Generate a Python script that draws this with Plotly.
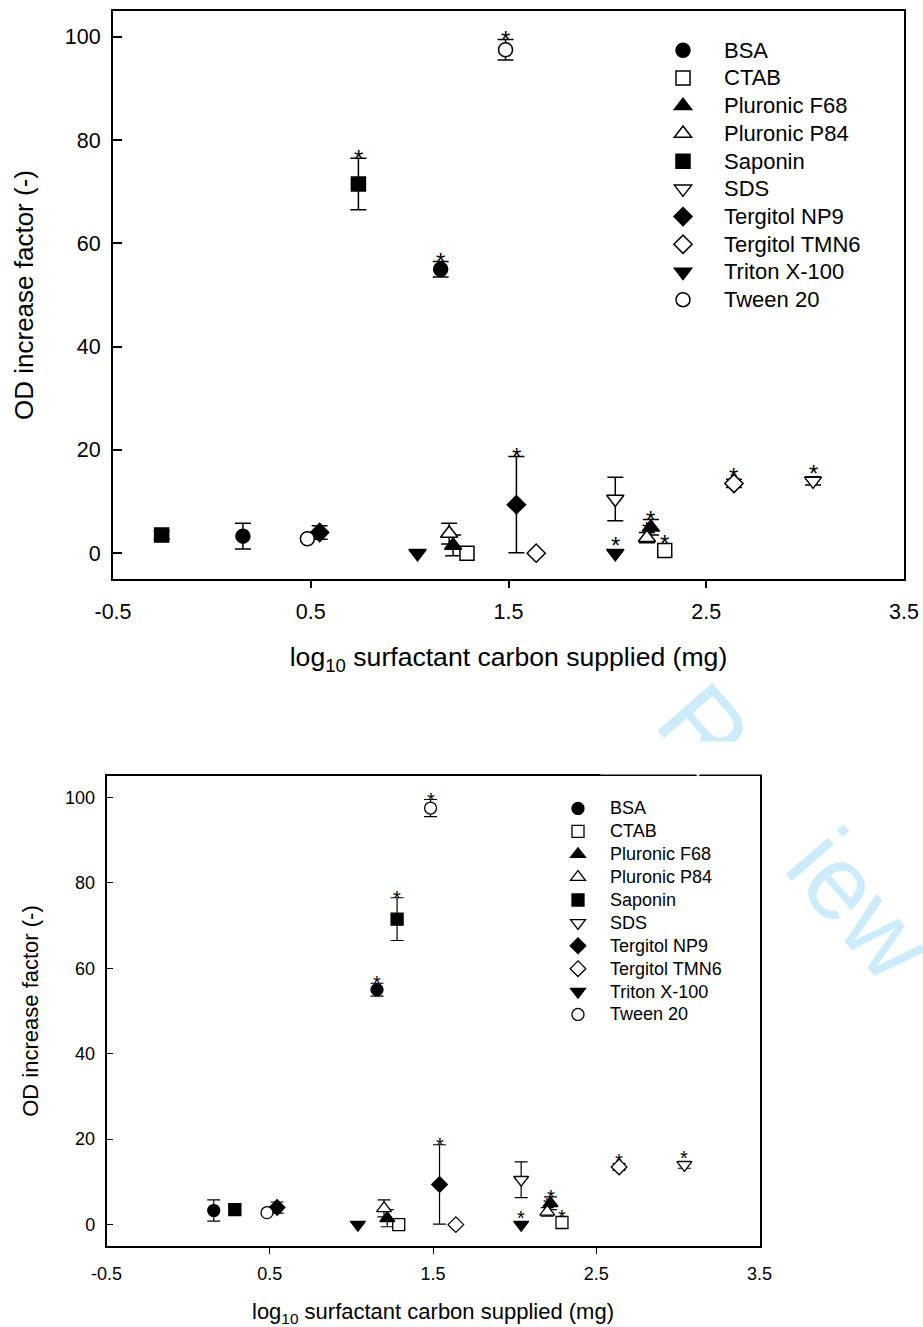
import plotly.graph_objects as go

# ---------------- data ----------------
surfactants = ["BSA", "CTAB", "Pluronic F68", "Pluronic P84", "Saponin", "SDS",
               "Tergitol NP9", "Tergitol TMN6", "Triton X-100", "Tween 20"]

# log10 surfactant carbon supplied (mg) – upper panel
x_dose1_upper = [0.157, 1.29, 1.22, 1.20, -0.254, 2.04, 0.545, 1.64, 1.04, 0.483]
x_dose2_upper = [1.157, 2.29, 2.22, 2.20, 0.741, 3.04, 1.54, 2.64, 2.04, 1.485]
# lower panel (Saponin carbon re-computed)
x_dose1_lower = [0.157, 1.29, 1.22, 1.20, 0.286, 2.04, 0.545, 1.64, 1.04, 0.483]
x_dose2_lower = [1.157, 2.29, 2.22, 2.20, 1.28, 3.04, 1.54, 2.64, 2.04, 1.485]

# OD increase factor (-)
y_dose1 = [3.3, 0.0, 1.5, 3.8, 3.5, 10.5, 4.0, 0.0, 0.0, 2.8]
y_dose2 = [55.0, 0.5, 5.0, 3.0, 71.5, 14.0, 9.4, 13.5, 0.0, 97.5]
err_dose1 = [2.5, None, 2.0, 2.0, 0.8, 4.2, 1.3, None, None, None]
err_dose2 = [1.5, None, 1.5, 1.0, 5.0, 0.8, 9.3, 0.8, None, 2.0]
sig_dose1 = [False, False, False, False, False, False, False, False, False, False]
sig_dose2 = [True, True, True, True, True, True, True, True, True, True]

x_tick_vals = [-0.5, 0.5, 1.5, 2.5, 3.5]
x_tick_text = ["-0.5", "0.5", "1.5", "2.5", "3.5"]
x_mark_vals = [0.5, 1.5, 2.5]
y_tick_vals = [0, 20, 40, 60, 80, 100]

# ---------------- styles ----------------
symbols = ["circle", "square", "triangle-up", "triangle-up", "square", "triangle-down",
           "diamond", "diamond", "triangle-down", "circle"]
fills = ["black", "white", "black", "white", "black", "white",
         "black", "white", "black", "white"]
FONT = "Liberation Sans, Arial, sans-serif"
W, H = 923, 1327

panels = [
    dict(xa="x", ya="y", xt="x3", leg="legend", xs=(x_dose1_upper, x_dose2_upper),
         base=14, tri=15, lw=1.5, ew=1.5, cap=8, star=24, ppu=568 / 110, lfs=22),
    dict(xa="x2", ya="y2", xt="x4", leg="legend2", xs=(x_dose1_lower, x_dose2_lower),
         base=12, tri=13, lw=1.3, ew=1.2, cap=6.5, star=20, ppu=470 / 110, lfs=18),
]

fig = go.Figure()
annotations = []

for p in panels:
    x1, x2 = p["xs"]
    # error bars first (drawn beneath markers)
    ex, ey, ee = [], [], []
    for i in range(len(surfactants)):
        for xv, yv, ev in ((x1[i], y_dose1[i], err_dose1[i]), (x2[i], y_dose2[i], err_dose2[i])):
            if ev is not None:
                ex.append(xv); ey.append(yv); ee.append(ev)
    fig.add_trace(go.Scatter(
        x=ex, y=ey, mode="markers", xaxis=p["xa"], yaxis=p["ya"],
        marker=dict(size=2, opacity=0), showlegend=False, hoverinfo="skip",
        error_y=dict(type="data", array=ee, symmetric=True, color="black",
                     thickness=p["ew"], width=p["cap"])))
    for i, name in enumerate(surfactants):
        size = p["tri"] if "triangle" in symbols[i] else p["base"]
        label = "<span style='font-size:%dpx'>%s</span>" % (p["lfs"], name)
        fig.add_trace(go.Scatter(
            x=[x1[i], x2[i]], y=[y_dose1[i], y_dose2[i]], mode="markers", name=label,
            xaxis=p["xa"], yaxis=p["ya"], legend=p["leg"],
            marker=dict(symbol=symbols[i], size=size, color=fills[i],
                        line=dict(color="black", width=p["lw"]))))
        radius = size / 2
        for xv, yv, ev, sg in ((x1[i], y_dose1[i], err_dose1[i], sig_dose1[i]),
                               (x2[i], y_dose2[i], err_dose2[i], sig_dose2[i])):
            if sg:
                e = ev if ev is not None else 0.0
                shift = max(0.0, radius - e * p["ppu"])
                annotations.append(dict(
                    x=xv, y=yv + e, xref=p["xa"], yref=p["ya"], text="*", showarrow=False,
                    xanchor="center", yanchor="middle", yshift=shift,
                    font=dict(family=FONT, size=p["star"], color="black")))
    # invisible trace carrying the tick-mark axis
    fig.add_trace(go.Scatter(x=[None], y=[None], xaxis=p["xt"], yaxis=p["ya"],
                             showlegend=False, hoverinfo="skip"))

# watermark fragments
wm_color = "rgb(204,236,251)"
annotations.insert(0, dict(x=704 / W, y=1 - 729 / H, xref="paper", yref="paper", text="R",
                           showarrow=False, textangle=49, xanchor="center", yanchor="middle",
                           font=dict(family=FONT, size=105, color=wm_color)))
annotations.insert(1, dict(x=861 / W, y=1 - 904 / H, xref="paper", yref="paper", text="iew",
                           showarrow=False, textangle=49, xanchor="center", yanchor="middle",
                           font=dict(family=FONT, size=105, color=wm_color)))
annotations.insert(2, dict(x=600 / W, y=1 - 741 / H, xref="paper", yref="paper", text=" ",
                           showarrow=False, xanchor="left", yanchor="top", width=197, height=32,
                           bgcolor="white", borderpad=0, font=dict(size=10)))


def xaxis_main(domain, anchor, lw, tfs, ttfs, tstand, lstand):
    return dict(domain=domain, anchor=anchor, range=[-0.5, 3.5], tickmode="array",
                tickvals=x_tick_vals, ticktext=x_tick_text, ticks="", showline=True,
                linecolor="black", linewidth=lw, mirror=True, showgrid=False, zeroline=False,
                automargin=False,
                tickfont=dict(family=FONT, size=tfs, color="black"), ticklabelstandoff=lstand,
                title=dict(text="log<sub>10</sub> surfactant carbon supplied (mg)",
                           font=dict(family=FONT, size=ttfs, color="black"), standoff=tstand))


def xaxis_marks(over, anchor, domain, ln, tw):
    return dict(overlaying=over, anchor=anchor, domain=domain, range=[-0.5, 3.5],
                tickmode="array", automargin=False,
                tickvals=x_mark_vals, ticks="outside", ticklen=ln, tickwidth=tw, tickcolor="black",
                showticklabels=False, showline=False, showgrid=False, zeroline=False)


def yaxis_main(domain, anchor, lw, tfs, ttfs, ln, tw, tstand, lstand):
    return dict(domain=domain, anchor=anchor, range=[-5, 105], tickmode="array",
                tickvals=y_tick_vals, ticks="inside", ticklen=ln, tickwidth=tw, tickcolor="black",
                showline=True, linecolor="black", linewidth=lw, mirror=True, showgrid=False,
                zeroline=False, automargin=False,
                tickfont=dict(family=FONT, size=tfs, color="black"),
                ticklabelstandoff=lstand,
                title=dict(text="OD increase factor (-)",
                           font=dict(family=FONT, size=ttfs, color="black"), standoff=tstand))


top_x = [113 / W, 904 / W]
bot_x = [106.5 / W, 759.5 / W]

fig.update_layout(
    width=W, height=H, autosize=False,
    margin=dict(l=0, r=0, t=0, b=0, pad=0, autoexpand=False),
    paper_bgcolor="white", plot_bgcolor="white", font=dict(family=FONT, color="black"),
    xaxis=xaxis_main(top_x, "y", 2, 21.5, 26.6, 25, 12),
    xaxis3=xaxis_marks("x", "y", top_x, 8, 1.5),
    yaxis=yaxis_main([1 - 579 / H, 1 - 11 / H], "x", 2, 21.5, 26, 9, 1.5, 24, 6),
    xaxis2=xaxis_main(bot_x, "y2", 1.5, 18, 22, 23, 11),
    xaxis4=xaxis_marks("x2", "y2", bot_x, 7, 1.2),
    yaxis2=yaxis_main([1 - 1246 / H, 1 - 776 / H], "x2", 1.5, 18, 22, 7, 1.2, 20, 6),
    legend=dict(x=642 / W, y=1 - 31.5 / H, xanchor="left", yanchor="top", bgcolor="rgba(0,0,0,0)",
                font=dict(family=FONT, size=19, color="black"), itemwidth=72, tracegroupgap=0),
    legend2=dict(x=546 / W, y=1 - 792 / H, xanchor="left", yanchor="top", bgcolor="rgba(0,0,0,0)",
                 font=dict(family=FONT, size=15.3, color="black"), itemwidth=54, tracegroupgap=0),
    annotations=annotations,
    showlegend=True,
)

fig.write_html("out.html", config={"displayModeBar": False})
